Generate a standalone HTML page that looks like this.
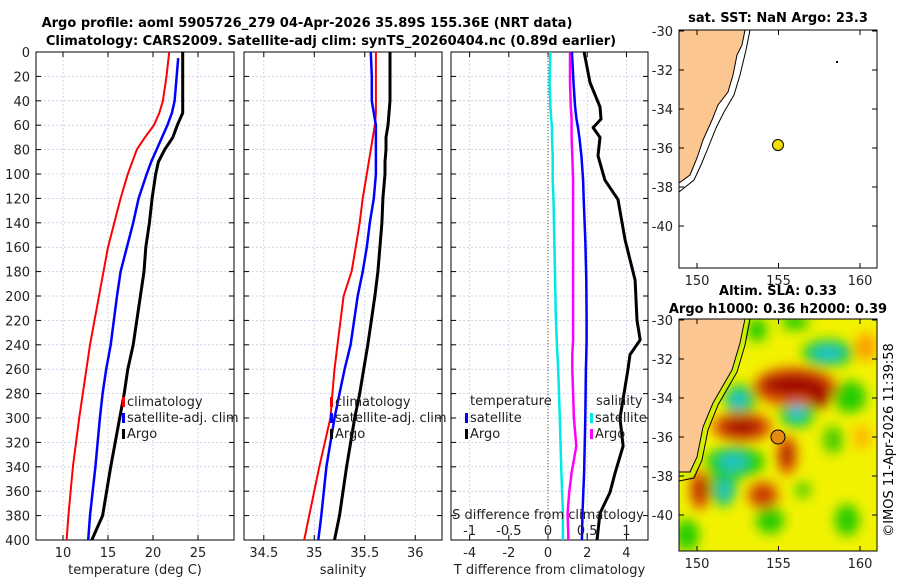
<!DOCTYPE html>
<html><head><meta charset="utf-8">
<style>
html,body{margin:0;padding:0;background:#fff;}
svg{display:block;font-family:"DejaVu Sans","Liberation Sans",sans-serif;}
</style></head>
<body>
<svg id="chart" width="900" height="580" viewBox="0 0 900 580" xmlns="http://www.w3.org/2000/svg">
<defs>
<clipPath id="clipP1"><rect x="36" y="52" width="198" height="488"/></clipPath>
<clipPath id="clipP2"><rect x="244" y="52" width="198" height="488"/></clipPath>
<clipPath id="clipP3"><rect x="451" y="52" width="197" height="488"/></clipPath>
<clipPath id="clipM2"><rect x="679" y="319" width="198" height="232"/></clipPath>
<filter id="blur" x="-50%" y="-50%" width="200%" height="200%"><feGaussianBlur stdDeviation="6"/></filter>
</defs>
<text x="307" y="27" text-anchor="middle" font-weight="bold" font-size="13">Argo profile: aoml 5905726_279 04-Apr-2026 35.89S 155.36E (NRT data)</text>
<text x="331" y="45" text-anchor="middle" font-weight="bold" font-size="13">Climatology: CARS2009. Satellite-adj clim: synTS_20260404.nc (0.89d earlier)</text>
<g id="p1"></g>
<g id="p2"></g>
<g id="p3"></g>

<!-- Map 1 -->
<g>
<text x="778" y="22" text-anchor="middle" font-weight="bold" font-size="13">sat. SST: NaN Argo: 23.3</text>
<rect x="679" y="30" width="198" height="238" fill="#fff" stroke="#000"/>
<path d="M679,30 L745,30 L742,45 L737,55 L733,75 L728,92 L718,105 L712,120 L703,140 L697,158 L690,175 L679,183 Z" fill="#fcc690" stroke="#000" stroke-width="1"/>
<path d="M750,30 L746,50 L740,75 L734,95 L724,112 L716,128 L708,148 L701,165 L694,180 L679,192" fill="none" stroke="#000" stroke-width="1"/>
<circle cx="778" cy="145" r="5.5" fill="#f0e000" stroke="#000"/>
<rect x="836" y="61" width="2" height="2" fill="#000"/>
</g>
<g id="m1ax"></g>

<!-- Map 2 -->
<g>
<text x="778" y="295" text-anchor="middle" font-weight="bold" font-size="13">Altim. SLA: 0.33</text>
<text x="778" y="313" text-anchor="middle" font-weight="bold" font-size="13">Argo h1000: 0.36 h2000: 0.39</text>
<g clip-path="url(#clipM2)">
<rect x="679" y="319" width="198" height="232" fill="#f2f200"/>
<g filter="url(#blur)">
<ellipse cx="770" cy="520" rx="14" ry="14" fill="#22cc00"/>
<ellipse cx="847" cy="520" rx="12" ry="16" fill="#22cc00"/>
<ellipse cx="687" cy="535" rx="12" ry="16" fill="#22cc00"/>
<ellipse cx="850" cy="397" rx="16" ry="16" fill="#22cc00"/>
<ellipse cx="757" cy="330" rx="10" ry="12" fill="#22cc00"/>
<ellipse cx="795" cy="322" rx="14" ry="8" fill="#22cc00"/>
<ellipse cx="833" cy="440" rx="10" ry="14" fill="#44cc00"/>
<ellipse cx="803" cy="490" rx="8" ry="8" fill="#44cc00"/>
<ellipse cx="828" cy="353" rx="26" ry="14" fill="#22cc00"/>
<ellipse cx="740" cy="400" rx="16" ry="16" fill="#22cc00"/>
<ellipse cx="797" cy="412" rx="18" ry="16" fill="#22cc00"/>
<ellipse cx="735" cy="462" rx="30" ry="16" fill="#22cc00"/>
<ellipse cx="723" cy="485" rx="14" ry="22" fill="#22cc00"/>
<ellipse cx="866" cy="347" rx="10" ry="14" fill="#ff9900"/>
<ellipse cx="862" cy="437" rx="8" ry="12" fill="#ffb000"/>
<ellipse cx="795" cy="387" rx="42" ry="20" fill="#e05000"/>
<ellipse cx="742" cy="427" rx="30" ry="15" fill="#e05000"/>
<ellipse cx="787" cy="455" rx="10" ry="20" fill="#e05000"/>
<ellipse cx="700" cy="490" rx="10" ry="20" fill="#e05000"/>
<ellipse cx="763" cy="495" rx="16" ry="14" fill="#e06000"/>
<ellipse cx="793" cy="385" rx="32" ry="11" fill="#a00000"/>
<ellipse cx="820" cy="395" rx="10" ry="14" fill="#a00000"/>
<ellipse cx="742" cy="427" rx="20" ry="8" fill="#a00000"/>
<ellipse cx="787" cy="455" rx="5" ry="12" fill="#a00000"/>
<ellipse cx="700" cy="490" rx="5" ry="12" fill="#b00000"/>
<ellipse cx="763" cy="495" rx="9" ry="8" fill="#c02000"/>
<ellipse cx="738" cy="400" rx="8" ry="8" fill="#20c0e0"/>
<ellipse cx="797" cy="412" rx="8" ry="8" fill="#20c0e0"/>
<ellipse cx="828" cy="353" rx="16" ry="6" fill="#20c0e0"/>
<ellipse cx="733" cy="462" rx="14" ry="8" fill="#20c0d0"/>
<ellipse cx="725" cy="490" rx="6" ry="12" fill="#20c0d0"/>
</g>
<path d="M679,319 L745,319 L740,343 L732,370 L713,403 L703,427 L697,457 L690,472 L679,472 Z" fill="#fcc690" stroke="#000" stroke-width="1"/>
<path d="M750,319 L745,345 L737,372 L718,405 L708,430 L702,460 L694,478 L679,481" fill="none" stroke="#000" stroke-width="1"/>
<path d="M747,319 L742,344 L734,371 L715,404 L705,428 L699,458 L692,475 L679,476" fill="none" stroke="#c8f000" stroke-width="3"/>
</g>
<rect x="679" y="319" width="198" height="232" fill="none" stroke="#000"/>
<circle cx="778" cy="437" r="7" fill="#e88a10" stroke="#000"/>
</g>
<g id="m2ax"></g>
<text transform="translate(893,440) rotate(-90)" text-anchor="middle" font-size="13">©IMOS 11-Apr-2026 11:39:58</text>
</svg>
<script>
// ---- data ----
const depths = [0,20,40,50,60,70,80,90,100,120,140,160,180,200,240,260,280,300,340,380,400];
const tempClim = [21.8,21.5,21.1,20.7,20.1,19.1,18.2,17.7,17.2,16.4,15.7,15.0,14.5,14.0,13.0,12.6,12.2,11.8,11.1,10.6,10.4];
const tempSat  = [22.9,22.8,22.4,22.1,21.6,21.0,20.4,19.8,19.3,18.4,17.8,17.1,16.4,16.0,15.3,14.8,14.4,14.1,13.6,13.0,12.8];
const tempArgo = [23.3,23.3,23.3,23.3,22.7,22.2,21.3,20.6,20.3,19.9,19.6,19.2,19.0,18.6,17.8,17.2,16.8,16.3,15.3,14.4,13.2];
const salClim = [35.61,35.61,35.61,35.61,35.60,35.58,35.56,35.54,35.52,35.48,35.45,35.41,35.37,35.29,35.23,35.20,35.18,35.16,35.05,34.95,34.90];
const salSat  = [35.56,35.57,35.57,35.59,35.61,35.61,35.61,35.61,35.61,35.59,35.55,35.52,35.48,35.43,35.36,35.30,35.25,35.20,35.12,35.07,35.04];
const salArgo = [35.75,35.75,35.75,35.74,35.73,35.71,35.71,35.70,35.70,35.68,35.67,35.65,35.63,35.60,35.53,35.49,35.45,35.40,35.32,35.25,35.20];
const diffDepths = [0,25,45,55,62,70,85,105,121,154,187,220,236,248,260,300,323,345,361,378,400];
const tDiffArgo = [1.84,2.14,2.65,2.7,2.3,2.65,2.55,2.9,3.57,3.93,4.44,4.54,4.7,4.18,4.08,3.67,3.83,3.42,3.16,2.65,2.5];
const tDiffSat  = [1.22,1.3,1.38,1.45,1.53,1.6,1.7,1.79,1.82,1.9,1.95,1.97,1.97,1.95,1.93,1.9,1.87,1.84,1.8,1.76,1.73];
const sDiffSat  = [0.03,0.02,0.03,0.04,0.05,0.05,0.06,0.06,0.07,0.08,0.09,0.1,0.11,0.12,0.13,0.15,0.16,0.17,0.18,0.19,0.19];
const sDiffArgo = [0.28,0.28,0.29,0.3,0.3,0.3,0.31,0.32,0.32,0.32,0.32,0.32,0.32,0.31,0.31,0.33,0.36,0.3,0.27,0.25,0.26];
const depthTicks = [0,20,40,60,80,100,120,140,160,180,200,220,240,260,280,300,320,340,360,380,400];
const tempTicks = [10,15,20,25];
const salTicks = [34.5,35,35.5,36];
const tDiffTicks = [-4,-2,0,2,4];
const sDiffTicks = [-1,-0.5,0,0.5,1];
const sDiffLabels = ['-1','-0.5','0','0.5','1'];

const NS="http://www.w3.org/2000/svg";
function mk(tag, attrs, parent){const e=document.createElementNS(NS,tag);for(const k in attrs)e.setAttribute(k,attrs[k]);parent.appendChild(e);return e;}
const Y0=52, Y1=540;
const yD = d => Y0 + d/400*(Y1-Y0);

function panel(g, x0, w, xmin, xmax, ticks, labels, clip, showY, xlabel){
  const xs = v => x0 + (v-xmin)/(xmax-xmin)*w;
  // grid
  ticks.forEach(t=>{ const l=mk('line',{x1:xs(t),x2:xs(t),y1:Y0,y2:Y1,stroke:'#c8cce8','stroke-dasharray':'2,2','stroke-width':0.8},g);
     });
  depthTicks.forEach(d=>{ if(d===0||d===400)return; const l=mk('line',{x1:x0,x2:x0+w,y1:yD(d),y2:yD(d),stroke:'#c8cce8','stroke-dasharray':'2,2','stroke-width':0.8},g);
     });
  // ticks
  depthTicks.forEach(d=>{ mk('line',{x1:x0,x2:x0+5,y1:yD(d),y2:yD(d),stroke:'#000'},g); mk('line',{x1:x0+w-5,x2:x0+w,y1:yD(d),y2:yD(d),stroke:'#000'},g);
    if(showY){const t=mk('text',{x:x0-6,y:yD(d)+5,'text-anchor':'end','font-size':13,fill:'#222'},g); t.textContent=d;
       }});
  ticks.forEach((tv,i)=>{ mk('line',{x1:xs(tv),x2:xs(tv),y1:Y1,y2:Y1-5,stroke:'#000'},g); mk('line',{x1:xs(tv),x2:xs(tv),y1:Y0,y2:Y0+5,stroke:'#000'},g);
    const t=mk('text',{x:xs(tv),y:Y1+17,'text-anchor':'middle','font-size':13,fill:'#222'},g); t.textContent=labels[i];
     });
  const xl=mk('text',{x:x0+w/2,y:574,'text-anchor':'middle','font-size':13,fill:'#222'},g); xl.textContent=xlabel;
   
  const f=mk('rect',{x:x0,y:Y0,width:w,height:Y1-Y0,fill:'none',stroke:'#000'},g);
   
  return xs;
}
function line(g, xs, vals, ds, color, width, clip, name){
  const p = vals.map((v,i)=>xs(v).toFixed(1)+','+yD(ds[i]).toFixed(1)).join(' ');
  const el=mk('polyline',{points:p,fill:'none',stroke:color,'stroke-width':width,'stroke-linejoin':'round','clip-path':'url(#'+clip+')'},g);
  
  
}
function legend(g,x,y,color,label,name){
  mk('rect',{x:x,y:y-9,width:3,height:10,fill:color},g);
  const t=mk('text',{x:x+5,y:y,'font-size':13,fill:'#222'},g); t.textContent=label;
  
  
}
// Panel 1
const g1=document.getElementById('p1');
const xT=panel(g1,36,198,7,29,tempTicks,tempTicks.map(String),'clipP1',true,'temperature (deg C)');
line(g1,xT,tempClim,depths,'#ff0000',2,'clipP1','climatology-temperature-line');
line(g1,xT,tempSat.slice(1),depths.slice(1).map((d,i)=>i===0?5:d),'#0000ff',2.5,'clipP1','satellite-temperature-line');
line(g1,xT,tempArgo,depths,'#000',3,'clipP1','argo-temperature-line');
legend(g1,122,406,'#ff0000','climatology','legend-climatology');
legend(g1,122,422,'#0000ff','satellite-adj. clim','legend-satellite');
legend(g1,122,438,'#000','Argo','legend-argo');
// Panel 2
const g2=document.getElementById('p2');
const xS=panel(g2,244,198,34.304,36.265,salTicks,['34.5','35','35.5','36'],'clipP2',false,'salinity');
line(g2,xS,salClim,depths,'#ff0000',2,'clipP2','climatology-salinity-line');
line(g2,xS,salSat,depths,'#0000ff',2.5,'clipP2','satellite-salinity-line');
line(g2,xS,salArgo,depths,'#000',3,'clipP2','argo-salinity-line');
legend(g2,330,406,'#ff0000','climatology','legend-climatology');
legend(g2,330,422,'#0000ff','satellite-adj. clim','legend-satellite');
legend(g2,330,438,'#000','Argo','legend-argo');
// Panel 3
const g3=document.getElementById('p3');
const xD=panel(g3,451,197,-4.95,5.1,tDiffTicks,tDiffTicks.map(String),'clipP3',false,'T difference from climatology');
const xSD = s => xD(s*4);
const z=mk('line',{x1:xD(0),x2:xD(0),y1:Y0,y2:Y1,stroke:'#555533','stroke-dasharray':'1,2','stroke-width':1},g3);
 
line(g3,xSD,sDiffSat,diffDepths,'#00e8e8',2.5,'clipP3','salinity-satellite-diff-line');
line(g3,xSD,sDiffArgo,diffDepths,'#ff00ff',2.5,'clipP3','salinity-argo-diff-line');
line(g3,xD,tDiffSat,diffDepths,'#0000ff',2.5,'clipP3','temperature-satellite-diff-line');
line(g3,xD,tDiffArgo,diffDepths,'#000',3,'clipP3','temperature-argo-diff-line');
let t=mk('text',{x:470,y:405,'font-size':13,fill:'#222'},g3); t.textContent='temperature';
 
t=mk('text',{x:596,y:405,'font-size':13,fill:'#222'},g3); t.textContent='salinity';
 
legend(g3,465,422,'#0000ff','satellite','legend-temperature-satellite');
legend(g3,465,438,'#000','Argo','legend-temperature-argo');
legend(g3,590,422,'#00e8e8','satellite','legend-salinity-satellite');
legend(g3,590,438,'#ff00ff','Argo','legend-salinity-argo');
t=mk('text',{x:548,y:519,'text-anchor':'middle','font-size':13,fill:'#222'},g3); t.textContent='S difference from climatology';
 
sDiffTicks.forEach((s,i)=>{ const e=mk('text',{x:xSD(s),y:535,'text-anchor':'middle','font-size':13,fill:'#222'},g3); e.textContent=sDiffLabels[i];
   });

// Map axes
function mapAxes(g, y0, h){
  const latTicks=[-30,-32,-34,-36,-38,-40];
  latTicks.forEach(l=>{ const y=y0+1+(-30-l)*19.5;
    mk('line',{x1:679,x2:684,y1:y,y2:y,stroke:'#000'},g); mk('line',{x1:872,x2:877,y1:y,y2:y,stroke:'#000'},g);
    const e=mk('text',{x:673,y:y+5,'text-anchor':'end','font-size':13,fill:'#222'},g); e.textContent=l;
     });
  [150,155,160].forEach(lo=>{ const x=697+(lo-150)*16.3;
    mk('line',{x1:x,x2:x,y1:y0+h,y2:y0+h-5,stroke:'#000'},g); mk('line',{x1:x,x2:x,y1:y0,y2:y0+5,stroke:'#000'},g);
    const e=mk('text',{x:x,y:y0+h+17,'text-anchor':'middle','font-size':13,fill:'#222'},g); e.textContent=lo;
     });
}
mapAxes(document.getElementById('m1ax'),30,238);
mapAxes(document.getElementById('m2ax'),319,232);
</script>
</body></html>
